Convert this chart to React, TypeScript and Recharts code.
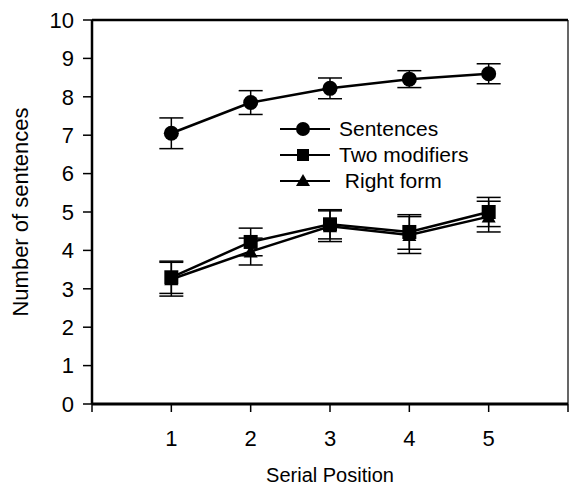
import React from "react";
import {
  LineChart,
  Line,
  XAxis,
  YAxis,
  ErrorBar,
  ReferenceLine,
  Legend,
} from "recharts";

const positions = [1, 2, 3, 4, 5];
const sentences = [7.05, 7.85, 8.22, 8.46, 8.6];
const sentencesErr = [0.4, 0.31, 0.27, 0.22, 0.26];
const twoModifiers = [3.3, 4.22, 4.68, 4.48, 5.0];
const twoModifiersErr = [0.42, 0.36, 0.38, 0.45, 0.38];
const rightForm = [3.25, 3.97, 4.63, 4.4, 4.88];
const rightFormErr = [0.44, 0.35, 0.4, 0.48, 0.4];
const xTicks = [0, 1, 2, 3, 4, 5, 6];
const yTicks = [0, 1, 2, 3, 4, 5, 6, 7, 8, 9, 10];
const seriesNames = ["Sentences", "Two modifiers", " Right form"];

const data = positions.map((p, i) => ({
  x: p,
  s: sentences[i],
  sErr: sentencesErr[i],
  t: twoModifiers[i],
  tErr: twoModifiersErr[i],
  r: rightForm[i],
  rErr: rightFormErr[i],
}));

const FONT = "'Liberation Sans', Arial, sans-serif";

const CircleDot = (p: any) => (
  <circle cx={p.cx} cy={p.cy} r={7.5} fill="#000" stroke="none" />
);
const SquareDot = (p: any) => (
  <rect x={p.cx - 7} y={p.cy - 7} width={14} height={14} fill="#000" />
);
const TriangleDot = (p: any) => (
  <polygon
    points={`${p.cx},${p.cy - 7} ${p.cx - 7},${p.cy + 6} ${p.cx + 7},${p.cy + 6}`}
    fill="#000"
  />
);

const markerFor = (i: number, cx: number, cy: number) => {
  if (i === 0) return <circle cx={cx} cy={cy} r={7} fill="#000" />;
  if (i === 1) return <rect x={cx - 6} y={cy - 6} width={12} height={12} fill="#000" />;
  return (
    <polygon points={`${cx},${cy - 7} ${cx - 7},${cy + 5} ${cx + 7},${cy + 5}`} fill="#000" />
  );
};

const renderLegend = () => (
  <div style={{ fontFamily: FONT, fontSize: 21, color: "#000" }}>
    {seriesNames.map((name, i) => (
      <div
        key={name}
        style={{ display: "flex", alignItems: "center", height: 26, whiteSpace: "pre" }}
      >
        <svg width={61} height={20} style={{ display: "block" }}>
          <line x1={2} y1={10} x2={52} y2={10} stroke="#000" strokeWidth={2} />
          {markerFor(i, 25, 10)}
        </svg>
        <span>{name}</span>
      </div>
    ))}
  </div>
);

const YLabel = (props: any) => {
  const vb = props.viewBox || { x: 0, y: 20, width: 92, height: 384 };
  const cx = vb.x + 20;
  const cy = vb.y + vb.height / 2;
  return (
    <text
      x={cx}
      y={cy}
      transform={`rotate(-90 ${cx} ${cy})`}
      textAnchor="middle"
      dominantBaseline="central"
      fontFamily={FONT}
      fontSize={22}
      fill="#000"
    >
      Number of sentences
    </text>
  );
};

const XLabel = (props: any) => {
  const vb = props.viewBox || { x: 92, y: 404, width: 476, height: 84 };
  const cx = vb.x + vb.width / 2;
  const cy = vb.y + 71;
  return (
    <text
      x={cx}
      y={cy}
      textAnchor="middle"
      dominantBaseline="central"
      fontFamily={FONT}
      fontSize={20}
      fill="#000"
    >
      Serial Position
    </text>
  );
};

export default function App() {
  return (
    <div style={{ position: "absolute", left: 0, top: 0, background: "#fff" }}>
      <LineChart
        width={569}
        height={488}
        data={data}
        margin={{ top: 20, right: 1, bottom: 0, left: 0 }}
      >
        <XAxis
          dataKey="x"
          type="number"
          domain={[0, 6]}
          ticks={xTicks}
          tickFormatter={(v: number) => (v === 0 || v === 6 ? "" : String(v))}
          axisLine={{ stroke: "#000", strokeWidth: 3 }}
          tickLine={{ stroke: "#000", strokeWidth: 1.5 }}
          tickSize={8}
          tickMargin={18}
          height={84}
          tick={{ fill: "#000", fontSize: 22, fontFamily: FONT }}
          label={{ content: XLabel }}
          allowDataOverflow
        />
        <YAxis
          type="number"
          domain={[0, 10]}
          ticks={yTicks}
          width={92}
          axisLine={{ stroke: "#000", strokeWidth: 2.5 }}
          tickLine={{ stroke: "#000", strokeWidth: 1.5 }}
          tickSize={9}
          tickMargin={9}
          tick={{ fill: "#000", fontSize: 22, fontFamily: FONT }}
          label={{ content: YLabel }}
          allowDataOverflow
        />
        <ReferenceLine y={10} stroke="#000" strokeWidth={2.5} />
        <ReferenceLine x={6} stroke="#000" strokeWidth={1.2} />
        <Line
          dataKey="r"
          stroke="#000"
          strokeWidth={2.5}
          dot={TriangleDot}
          isAnimationActive={false}
        >
          <ErrorBar dataKey="rErr" width={12} stroke="#000" strokeWidth={1.5} direction="y" />
        </Line>
        <Line
          dataKey="t"
          stroke="#000"
          strokeWidth={2.5}
          dot={SquareDot}
          isAnimationActive={false}
        >
          <ErrorBar dataKey="tErr" width={12} stroke="#000" strokeWidth={1.5} direction="y" />
        </Line>
        <Line
          dataKey="s"
          stroke="#000"
          strokeWidth={2.5}
          dot={CircleDot}
          isAnimationActive={false}
        >
          <ErrorBar dataKey="sErr" width={12} stroke="#000" strokeWidth={1.5} direction="y" />
        </Line>
        <Legend
          layout="vertical"
          align="center"
          verticalAlign="middle"
          content={renderLegend}
          wrapperStyle={{ left: 278, top: 116, width: 230, height: 80 }}
        />
      </LineChart>
    </div>
  );
}
